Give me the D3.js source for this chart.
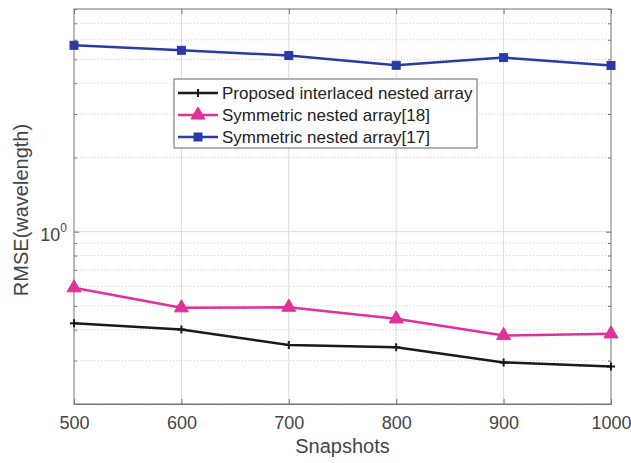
<!DOCTYPE html>
<html>
<head>
<script src="https://cdn.jsdelivr.net/npm/d3@7"></script>
<style>
  body { margin: 0; background: #fff; }
  svg { display: block; font-family: "Liberation Sans", Arial, sans-serif; }
  .grid line { stroke: #dcdcdc; stroke-width: 1; }
  .grid .minor { stroke-dasharray: 1,2; stroke: #cfcfcf; }
</style>
</head>
<body>
<script>
  // data
  const snapshots = [500, 600, 700, 800, 900, 1000];
  const proposed = [0.425, 0.401, 0.347, 0.340, 0.295, 0.284];
  const symmetric18 = [0.592, 0.491, 0.494, 0.443, 0.379, 0.385];
  const symmetric17 = [5.70, 5.44, 5.18, 4.73, 5.08, 4.72];
  const seriesNames = ["Proposed interlaced nested array", "Symmetric nested array[18]", "Symmetric nested array[17]"];
  const yMinorTicks = [0.2, 0.3, 0.4, 0.5, 0.6, 0.7, 0.8, 0.9, 2, 3, 4, 5, 6, 7, 8];

  const w = 631, h = 463;
  const pLeft = 74, pRight = 611, pTop = 9, pBottom = 404;

  const svg = d3.select("body").append("svg").attr("width", w).attr("height", h);

  const x = d3.scaleLinear().domain([500, 1000]).range([pLeft, pRight]);
  const y = d3.scaleLog().domain([0.2, 8]).range([pBottom, pTop]);

  // grid
  const grid = svg.append("g").attr("class", "grid");
  grid.selectAll(".vx").data(snapshots.slice(1, -1)).enter().append("line")
    .attr("x1", d => x(d)).attr("x2", d => x(d)).attr("y1", pTop).attr("y2", pBottom);
  grid.selectAll(".hy").data(yMinorTicks).enter().append("line")
    .attr("class", "minor")
    .attr("x1", pLeft).attr("x2", pRight).attr("y1", d => y(d)).attr("y2", d => y(d));
  grid.append("line").attr("x1", pLeft).attr("x2", pRight).attr("y1", y(1)).attr("y2", y(1));

  // axes (box with inward ticks)
  const axisColor = "#777";
  const xAxis = svg.append("g").attr("transform", `translate(0,${pBottom})`)
    .call(d3.axisBottom(x).tickValues(snapshots).tickSize(-5).tickPadding(12).tickFormat(d3.format("d")));
  xAxis.selectAll("text").attr("font-size", 18).attr("fill", "#444");
  const xTop = svg.append("g").attr("transform", `translate(0,${pTop})`)
    .call(d3.axisTop(x).tickValues(snapshots).tickSize(-5).tickFormat(""));

  const yAxis = svg.append("g").attr("transform", `translate(${pLeft},0)`)
    .call(d3.axisLeft(y).tickValues([1]).tickSize(-5).tickFormat(""));
  const yMinorL = svg.append("g").attr("transform", `translate(${pLeft},0)`)
    .call(d3.axisLeft(y).tickValues(yMinorTicks).tickSize(-3).tickFormat(""));
  const yRight = svg.append("g").attr("transform", `translate(${pRight},0)`)
    .call(d3.axisRight(y).tickValues([1]).tickSize(-5).tickFormat(""));
  const yMinorR = svg.append("g").attr("transform", `translate(${pRight},0)`)
    .call(d3.axisRight(y).tickValues(yMinorTicks).tickSize(-3).tickFormat(""));

  [xAxis, xTop, yAxis, yMinorL, yRight, yMinorR].forEach(g => {
    g.selectAll("path").attr("stroke", axisColor);
    g.selectAll("line").attr("stroke", axisColor);
  });
  [yMinorL, yMinorR, xTop, yAxis, yRight].forEach(g => g.select(".domain").remove());
  svg.append("rect").attr("x", pLeft).attr("y", pTop).attr("width", pRight - pLeft).attr("height", pBottom - pTop)
    .attr("fill", "none").attr("stroke", axisColor);

  // 10^0 label
  const lab = svg.append("text").attr("x", pLeft - 7).attr("y", y(1) + 9)
    .attr("text-anchor", "end").attr("font-size", 18).attr("fill", "#444");
  lab.append("tspan").text("10");
  lab.append("tspan").attr("dy", -9).attr("font-size", 12).text("0");

  // axis titles
  svg.append("text").attr("x", (pLeft + pRight) / 2).attr("y", 453)
    .attr("text-anchor", "middle").attr("font-size", 20).attr("fill", "#444").text("Snapshots");
  svg.append("text").attr("transform", `translate(28,210) rotate(-90)`)
    .attr("text-anchor", "middle").attr("font-size", 20).attr("fill", "#444").text("RMSE(wavelength)");

  // series
  const series = [
    { name: seriesNames[0], values: proposed, color: "#1a1a1a", marker: "plus" },
    { name: seriesNames[1], values: symmetric18, color: "#e0309a", marker: "triangle" },
    { name: seriesNames[2], values: symmetric17, color: "#2a3aa6", marker: "square" }
  ];

  const line = d3.line().x((d, i) => x(snapshots[i])).y(d => y(d));

  function drawMarker(g, type, color, cx, cy) {
    if (type === "plus") {
      g.append("path").attr("d", `M${cx - 4},${cy}H${cx + 4}M${cx},${cy - 4}V${cy + 4}`)
        .attr("stroke", color).attr("stroke-width", 2);
    } else if (type === "triangle") {
      g.append("path").attr("d", d3.symbol().type(d3.symbolTriangle).size(85)())
        .attr("transform", `translate(${cx},${cy})`).attr("fill", color).attr("stroke", color);
    } else {
      g.append("rect").attr("x", cx - 4).attr("y", cy - 4).attr("width", 8).attr("height", 8)
        .attr("fill", color).attr("stroke", color);
    }
  }

  series.forEach(s => {
    svg.append("path").datum(s.values).attr("d", line)
      .attr("fill", "none").attr("stroke", s.color).attr("stroke-width", 2.5);
    const g = svg.append("g");
    s.values.forEach((v, i) => drawMarker(g, s.marker, s.color, x(snapshots[i]), y(v)));
  });

  // legend
  const lg = svg.append("g");
  lg.append("rect").attr("x", 174).attr("y", 79).attr("width", 303).attr("height", 69)
    .attr("fill", "#fff").attr("stroke", "#666");
  series.forEach((s, i) => {
    const ly = 93 + i * 22;
    lg.append("line").attr("x1", 178).attr("x2", 218).attr("y1", ly).attr("y2", ly)
      .attr("stroke", s.color).attr("stroke-width", 2.5);
    drawMarker(lg, s.marker, s.color, 198, ly);
    lg.append("text").attr("x", 222).attr("y", ly + 6).attr("font-size", 17).attr("fill", "#222").text(s.name);
  });
</script>
</body>
</html>
